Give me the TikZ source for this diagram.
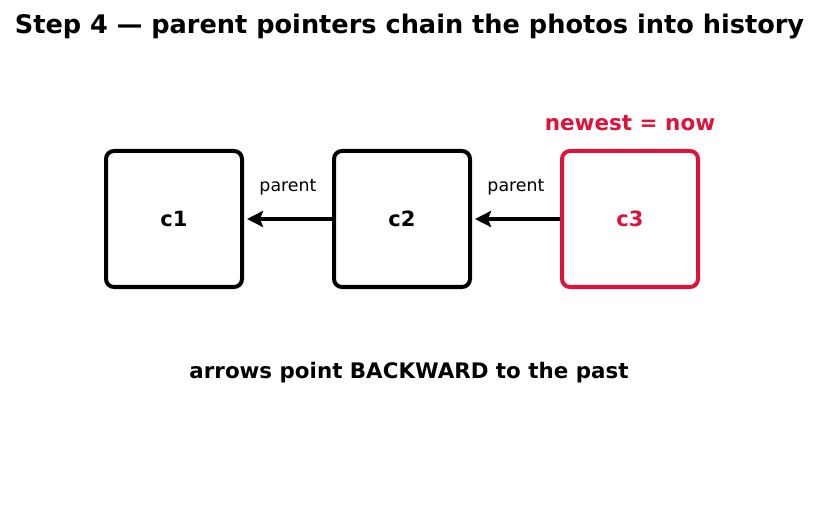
\documentclass[tikz,border=0pt]{standalone}
\usepackage{fontspec}
\setmainfont{DejaVu Sans}
\usepackage{xcolor}
\usetikzlibrary{arrows.meta,positioning}
\definecolor{commitline}{RGB}{0,0,0}
\definecolor{headaccent}{RGB}{220,20,60}

\begin{document}
\begin{tikzpicture}[x=1pt, y=1pt,
    commit/.style={draw=commitline, line width=4pt, rounded corners=8pt, minimum size=136pt, font=\fontsize{21}{25}\selectfont\bfseries},
    parentarrow/.style={commitline, line width=4pt, -{Stealth[length=16pt, width=16pt, inset=3pt]}, shorten >=3pt},
    edgelabel/.style={font=\fontsize{17.4}{21}\selectfont, above=19pt}]
    \useasboundingbox (0,0) rectangle (819,512);
    \node[font=\fontsize{25.6}{30}\selectfont\bfseries] (title) at (409.5,485) {Step 4 — parent pointers chain the photos into history};
    \node[commit] (c1) at (174,293) {c1};
    \node[commit, right=88pt of c1] (c2) {c2};
    \node[commit, draw=headaccent, text=headaccent, right=88pt of c2] (c3) {c3};
    \node[font=\fontsize{21.5}{26}\selectfont\bfseries, text=headaccent, above=15pt of c3] (newest) {newest = now};
    \draw[parentarrow] (c2) -- (c1) node[midway, edgelabel] (p1) {parent};
    \draw[parentarrow] (c3) -- (c2) node[midway, edgelabel] (p2) {parent};
    \node[font=\fontsize{21.4}{26}\selectfont\bfseries] (note) at (409,139) {arrows point BACKWARD to the past};
  \end{tikzpicture}
\end{document}
